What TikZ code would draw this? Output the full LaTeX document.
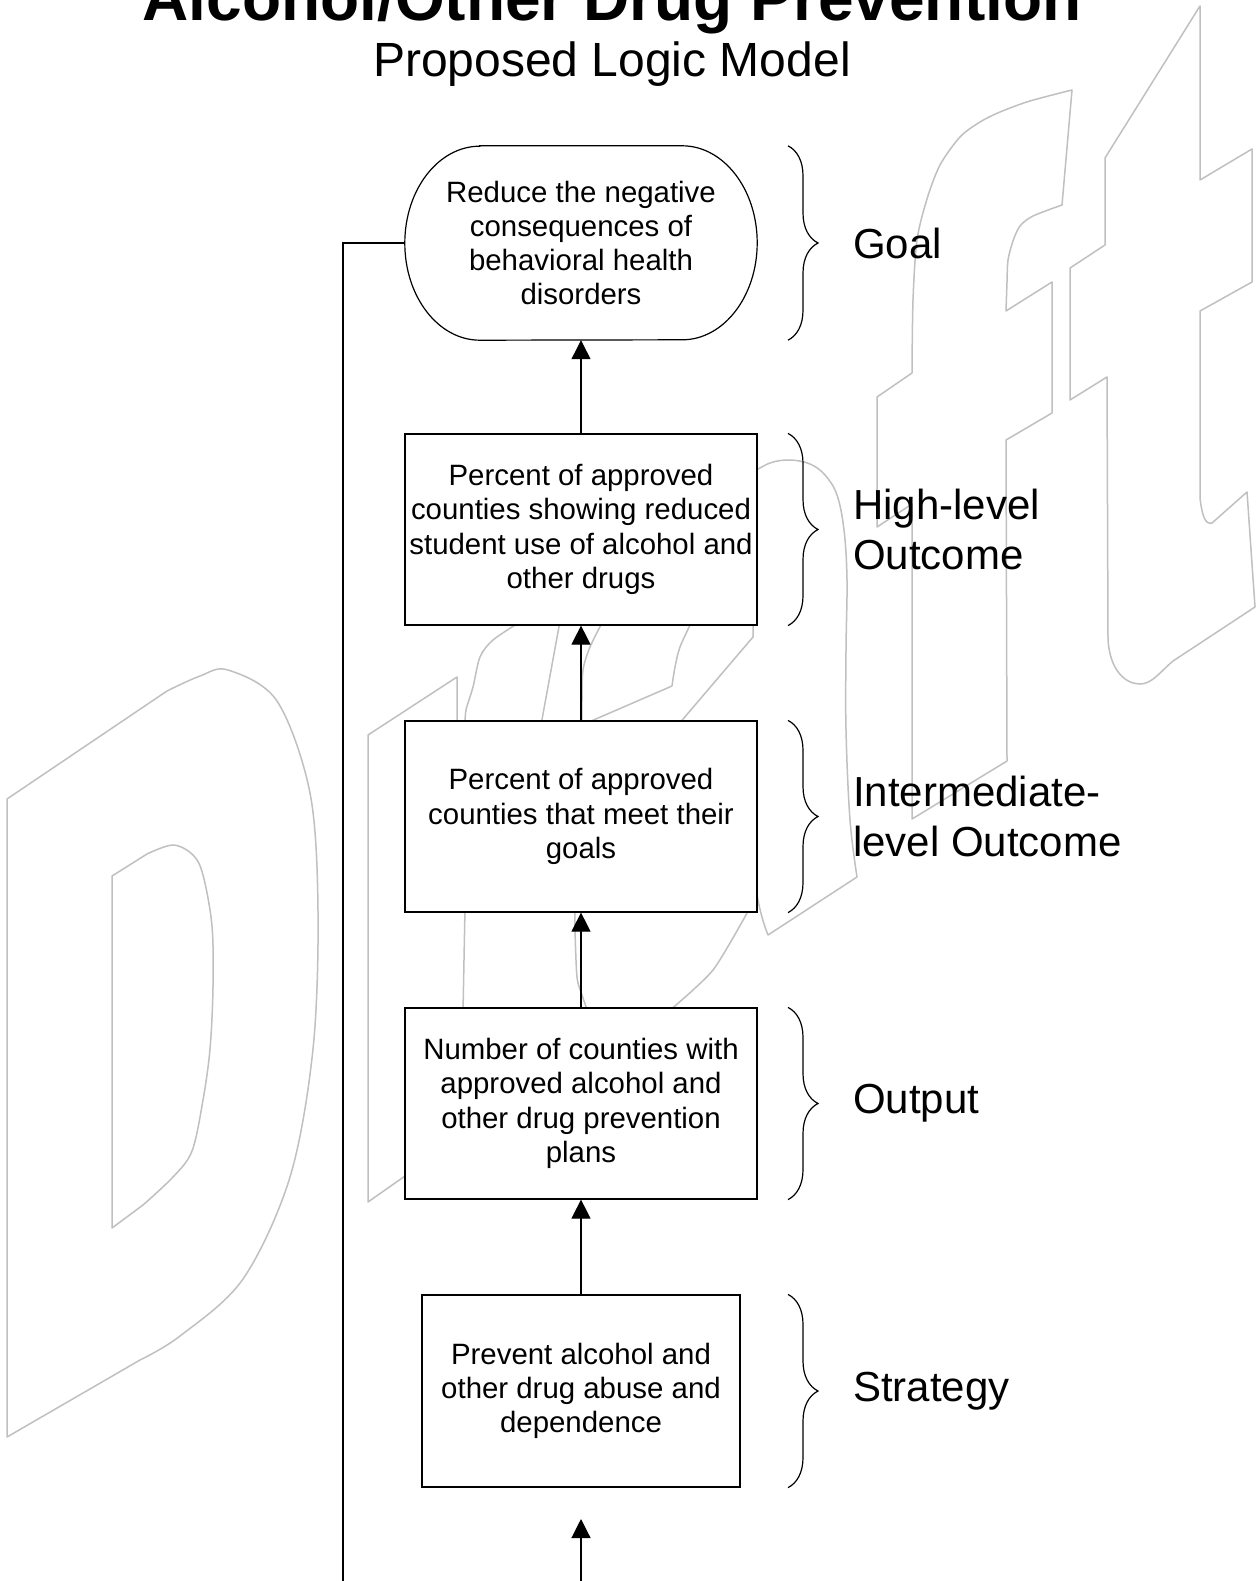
\documentclass[tikz,border=0pt]{standalone}
\usepackage{fontspec}
\setmainfont{Liberation Sans}
\usetikzlibrary{arrows.meta,decorations.pathreplacing}
\definecolor{wmgray}{RGB}{192,192,192}
\begin{document}
\begin{tikzpicture}[x=1pt,y=-1pt,
  wm/.style={draw=wmgray,line width=1.5pt,line join=round},
  boxnode/.style={draw,fill=white,line width=1.2pt,minimum width=352pt,minimum height=191pt,inner sep=0pt,align=center,font=\fontsize{29.4}{34.3}\selectfont},
  goalnode/.style={minimum width=352pt,minimum height=194pt,inner sep=0pt,align=center,font=\fontsize{29.4}{34.3}\selectfont},
  boxline/.style={draw,line width=1.2pt},
  conn/.style={line width=1.2pt,-{Triangle[length=19pt,width=19pt]}},
  fbline/.style={line width=1.2pt},
  brc/.style={line width=1.2pt,decorate,decoration={brace,amplitude=30pt}},
  lbl/.style={anchor=west,align=left,inner sep=0pt,font=\fontsize{42}{50}\selectfont}]
\useasboundingbox (0,0) rectangle (1257,1581);
\clip (0,0) rectangle (1257,1581);
\fill[white] (0,0) rectangle (1257,1581);

% ---------- watermark "Draft" ----------
% D outer
\draw[wm] plot[smooth,tension=0.55] coordinates {(140,1360) (180,1336) (243,1279) (290,1177) (313,1049) (318,911) (310,793) (277,701) (228,670) (200,676) (167,691)} -- (7,799) -- (7,1437) -- cycle;
% D inner
\draw[wm] plot[smooth,tension=0.55] coordinates {(143,1205) (173,1177) (192,1151) (203,1100) (210,1049) (213,987) (212,926) (203,875) (193,855) (173,845) (147,854)} -- (112,876) -- (112,1228) -- cycle;
% r
\draw[wm] (405,1176) -- (368,1202) -- (368,735) -- (457,677) -- (457,725);
\draw[wm] plot[smooth] coordinates {(465,725) (466,710) (473,687) (480,657) (493,640) (520,622)};
\draw[wm] plot[smooth] coordinates {(465,908) (464,960) (463,1012)};
% a
\draw[wm] (541,725) -- (560,621);
\draw[wm] plot[smooth] coordinates {(582,725) (582,700) (583,670) (590,647) (603,621)};
\draw[wm] (582,725) -- (672,686) plot[smooth] coordinates {(672,686) (675,667) (680,647) (692,621)};
\draw[wm] (678,725) -- (753,637) -- (753,621);
\draw[wm] plot[smooth,tension=0.6] coordinates {(750,474) (770,463) (790,460) (810,464) (825,475) (837,495) (844,530) (847,580) (846,650) (846,730) (850,820) (857,877)} -- (768,935) .. controls (762,920) and (757,900) .. (755,880);
\draw[wm] plot[smooth] coordinates {(575,908) (575,930) (577,977) (582,995) (588,1012)};
\draw[wm] plot[smooth] coordinates {(750,906) (747,913) (730,943) (713,970) (693,990) (668,1012)};
% f
\draw[wm] (912,819) -- (912,504) -- (877,527) -- (877,397) -- (912,373)
  -- plot[smooth] coordinates {(912,373) (913,300) (917,240) (927,199) (940,165) (960,137) (980,122) (1000,112) (1030,101) (1072,90)}
  -- (1062,205)
  -- plot[smooth] coordinates {(1062,205) (1033,216) (1020,226) (1013,241) (1008,260) (1007,282) (1006,311)}
  -- (1052,282) -- (1052,413) -- (1006,440) -- (1007,761) -- cycle;
% t
\draw[wm] (1105,158) -- (1200,6) -- (1200,180) -- (1252,149) -- (1252,282) -- (1200,311) -- (1200,498)
  .. controls (1202,515) and (1205,525) .. (1212,523) -- (1247,492) -- (1255,607) -- (1173,661)
  .. controls (1160,672) and (1152,684) .. (1140,684) .. controls (1125,684) and (1110,670) .. (1108,640)
  -- (1107,377) -- (1070,400) -- (1070,268) -- (1105,245) -- cycle;

% ---------- boxes ----------
\node[goalnode] (goal) at (581,243) {Reduce the negative\\consequences of\\behavioral health\\disorders};
\draw[boxline] ([xshift=75pt]goal.north west) -- ([xshift=-75pt]goal.north east)
  arc[start angle=90,end angle=-90,x radius=75pt,y radius=97pt]
  -- ([xshift=75pt]goal.south west)
  arc[start angle=270,end angle=90,x radius=75pt,y radius=97pt] -- cycle;
\node[boxnode] (hi) at (581,529.5) {Percent of approved\\counties showing reduced\\student use of alcohol and\\other drugs};
\node[boxnode] (mid) at (581,816.5) {Percent of approved\\counties that meet their\\goals};
\node[boxnode] (out) at (581,1103.5) {Number of counties with\\approved alcohol and\\other drug prevention\\plans};
\node[boxnode,minimum width=318pt,minimum height=192pt] (strat) at (581,1391) {Prevent alcohol and\\other drug abuse and\\dependence};

% ---------- connectors ----------
\draw[conn] (hi.north) -- (goal.south);
\draw[conn] (mid.north) -- (hi.south);
\draw[conn] (out.north) -- (mid.south);
\draw[conn] (strat.north) -- (out.south);
\coordinate (botin) at (581,1581);
\coordinate (tipin) at (581,1519);
\draw[conn] (botin) -- (tipin);
\coordinate (fbend) at (343,1581);
\draw[fbline] (goal.west) -| (fbend);

% ---------- braces and labels ----------
\coordinate (bx) at (788,0);
\coordinate (lx) at (853,0);
\draw[brc] (bx |- goal.north) -- (bx |- goal.south);
\draw[brc] (bx |- hi.north) -- (bx |- hi.south);
\draw[brc] (bx |- mid.north) -- (bx |- mid.south);
\draw[brc] (bx |- out.north) -- (bx |- out.south);
\draw[brc] (bx |- strat.north) -- (bx |- strat.south);
\node[lbl] (lgoal) at (lx |- goal) {Goal};
\node[lbl] (lhi) at (lx |- hi) {High-level\\Outcome};
\node[lbl] (lmid) at (lx |- mid) {Intermediate-\\level Outcome};
\node[lbl] (lout) at (lx |- out) {Output};
\node[lbl] (lstrat) at (lx |- strat) {Strategy};

% ---------- title ----------
\node[anchor=base,inner sep=0pt,font=\fontsize{64}{70}\selectfont\bfseries] (title) at (612,21) {Alcohol/Other Drug Prevention};
\node[anchor=base,inner sep=0pt,font=\fontsize{48}{56}\selectfont] (subtitle) at (612,77) {Proposed Logic Model};
\end{tikzpicture}
\end{document}
